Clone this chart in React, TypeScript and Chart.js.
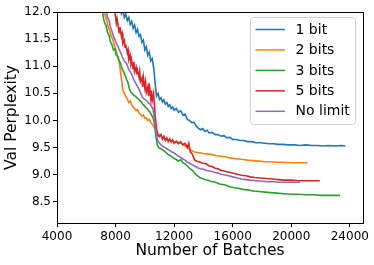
import React, { useEffect, useRef } from "react";
import { Chart, registerables } from "chart.js";

Chart.register(...registerables);

const seriesLabels = ["1 bit", "2 bits", "3 bits", "5 bits", "No limit"];
const seriesColors = ["#1f77b4", "#ff7f0e", "#2ca02c", "#d62728", "#9467bd"];
const xTicks = [4000, 8000, 12000, 16000, 20000, 24000];
const yTicks = [8.5, 9.0, 9.5, 10.0, 10.5, 11.0, 11.5, 12.0];

const bit1Batches = [8300, 8400, 8500, 8600, 8700, 8800, 8900, 9000, 9100, 9200, 9300, 9400, 9500, 9600, 9700, 9800, 9900, 10000, 10100, 10200, 10300, 10400, 10500, 10600, 10700, 10800, 10900, 11000, 11100, 11200, 11300, 11400, 11500, 11600, 11700, 11800, 11900, 12000, 12150, 12300, 12450, 12600, 12750, 12900, 13050, 13200, 13350, 13500, 13650, 13800, 13950, 14100, 14250, 14400, 14600, 14800, 15000, 15200, 15400, 15600, 15800, 16000, 16250, 16500, 16750, 17000, 17300, 17600, 17900, 18200, 18500, 18800, 19100, 19400, 19800, 20200, 20600, 21000, 21400, 21800, 22200, 22600, 23000, 23400, 23700];
const bit1Ppl = [12.1, 11.97, 12.03, 11.9, 11.96, 11.84, 11.9, 11.77, 11.83, 11.7, 11.76, 11.62, 11.68, 11.55, 11.58, 11.44, 11.48, 11.3, 11.36, 11.2, 11.26, 11.1, 11.14, 10.98, 10.7, 10.45, 10.5, 10.39, 10.42, 10.34, 10.38, 10.3, 10.33, 10.26, 10.29, 10.22, 10.25, 10.19, 10.22, 10.15, 10.18, 10.1, 10.12, 10.02, 10.0, 9.96, 9.97, 9.9, 9.86, 9.83, 9.85, 9.8, 9.82, 9.77, 9.78, 9.74, 9.74, 9.71, 9.72, 9.68, 9.69, 9.65, 9.65, 9.63, 9.63, 9.61, 9.61, 9.59, 9.59, 9.58, 9.57, 9.57, 9.56, 9.56, 9.55, 9.55, 9.54, 9.55, 9.54, 9.54, 9.53, 9.54, 9.53, 9.54, 9.53];

const bit2Batches = [7200, 7300, 7400, 7500, 7600, 7700, 7800, 7900, 8000, 8100, 8200, 8300, 8400, 8500, 8600, 8700, 8800, 8900, 9000, 9100, 9200, 9300, 9400, 9500, 9600, 9700, 9800, 9900, 10000, 10100, 10200, 10300, 10400, 10500, 10600, 10700, 10800, 10900, 11000, 11200, 11400, 11600, 11800, 12000, 12200, 12400, 12600, 12800, 13000, 13200, 13400, 13600, 13800, 14000, 14300, 14600, 14900, 15200, 15500, 15800, 16100, 16400, 16700, 17000, 17400, 17800, 18200, 18600, 19000, 19500, 20000, 20500, 21100];
const bit2Ppl = [12.08, 11.92, 11.85, 11.72, 11.66, 11.55, 11.5, 11.4, 11.32, 11.22, 11.12, 10.98, 10.76, 10.56, 10.5, 10.44, 10.4, 10.33, 10.36, 10.29, 10.25, 10.22, 10.18, 10.2, 10.14, 10.12, 10.08, 10.1, 10.04, 10.05, 10.0, 10.02, 9.97, 9.93, 9.9, 9.84, 9.78, 9.72, 9.74, 9.68, 9.66, 9.64, 9.63, 9.61, 9.6, 9.59, 9.56, 9.52, 9.48, 9.44, 9.42, 9.41, 9.4, 9.39, 9.38, 9.37, 9.35, 9.34, 9.33, 9.31, 9.3, 9.29, 9.28, 9.27, 9.26, 9.25, 9.24, 9.24, 9.23, 9.23, 9.22, 9.22, 9.22];

const bit3Batches = [7100, 7150, 7250, 7350, 7450, 7550, 7650, 7750, 7850, 7950, 8050, 8150, 8250, 8350, 8450, 8550, 8650, 8750, 8850, 8950, 9050, 9150, 9250, 9350, 9450, 9550, 9650, 9750, 9850, 9950, 10050, 10150, 10250, 10350, 10450, 10550, 10650, 10750, 10850, 10950, 11100, 11250, 11400, 11550, 11700, 11850, 12000, 12150, 12300, 12450, 12600, 12750, 12900, 13050, 13200, 13350, 13500, 13650, 13800, 13950, 14100, 14300, 14500, 14700, 14900, 15100, 15300, 15500, 15800, 16100, 16400, 16700, 17000, 17400, 17800, 18200, 18600, 19000, 19500, 20000, 20500, 21000, 21500, 22000, 22500, 23000, 23330];
const bit3Ppl = [12.05, 11.92, 11.8, 11.75, 11.62, 11.58, 11.45, 11.4, 11.3, 11.32, 11.2, 11.18, 11.1, 11.05, 10.95, 10.9, 10.83, 10.76, 10.7, 10.58, 10.52, 10.5, 10.46, 10.45, 10.42, 10.4, 10.37, 10.35, 10.3, 10.28, 10.24, 10.22, 10.18, 10.16, 10.1, 10.06, 9.95, 9.72, 9.55, 9.5, 9.48, 9.45, 9.42, 9.38, 9.36, 9.33, 9.3, 9.28, 9.25, 9.28, 9.22, 9.2, 9.16, 9.12, 9.09, 9.05, 9.0, 8.97, 8.94, 8.93, 8.91, 8.9, 8.88, 8.87, 8.85, 8.83, 8.82, 8.81, 8.78, 8.76, 8.75, 8.73, 8.72, 8.7, 8.69, 8.68, 8.67, 8.66, 8.65, 8.64, 8.64, 8.63, 8.63, 8.62, 8.62, 8.62, 8.62];

const bit5Batches = [7900, 8000, 8050, 8100, 8200, 8250, 8300, 8400, 8450, 8500, 8600, 8650, 8700, 8800, 8850, 8900, 9000, 9050, 9100, 9200, 9250, 9300, 9400, 9450, 9500, 9600, 9650, 9700, 9800, 9850, 9900, 10000, 10050, 10100, 10200, 10250, 10300, 10400, 10450, 10500, 10600, 10650, 10700, 10800, 10900, 11000, 11100, 11200, 11300, 11400, 11500, 11600, 11700, 11800, 11900, 12000, 12150, 12300, 12450, 12600, 12750, 12900, 13000, 13100, 13250, 13400, 13550, 13700, 13850, 14000, 14200, 14400, 14600, 14800, 15000, 15200, 15400, 15700, 16000, 16300, 16600, 16900, 17200, 17500, 17900, 18300, 18700, 19100, 19500, 20000, 20500, 21000, 21500, 21950];
const bit5Ppl = [12.1, 11.9, 11.8, 11.88, 11.7, 11.62, 11.72, 11.55, 11.6, 11.42, 11.48, 11.35, 11.4, 11.25, 11.3, 11.12, 11.2, 11.05, 11.1, 10.95, 11.08, 10.9, 10.98, 10.85, 10.92, 10.8, 10.9, 10.72, 10.78, 10.62, 10.8, 10.6, 10.7, 10.52, 10.62, 10.45, 10.68, 10.42, 10.55, 10.36, 10.5, 10.3, 10.1, 9.85, 9.73, 9.7, 9.74, 9.66, 9.71, 9.63, 9.68, 9.61, 9.66, 9.6, 9.64, 9.58, 9.62, 9.57, 9.61, 9.55, 9.58, 9.5, 9.58, 9.42, 9.38, 9.27, 9.25, 9.24, 9.22, 9.21, 9.2, 9.16, 9.15, 9.12, 9.11, 9.08, 9.07, 9.05, 9.03, 9.01, 8.99, 8.98, 8.96, 8.95, 8.94, 8.93, 8.92, 8.91, 8.9, 8.9, 8.89, 8.89, 8.89, 8.89];

const noLimitBatches = [7350, 7450, 7550, 7650, 7750, 7850, 7950, 8050, 8150, 8250, 8350, 8450, 8550, 8650, 8750, 8850, 8950, 9050, 9150, 9250, 9350, 9450, 9550, 9650, 9750, 9850, 9950, 10050, 10150, 10250, 10350, 10450, 10550, 10650, 10750, 10850, 10950, 11100, 11250, 11400, 11550, 11700, 11850, 12000, 12150, 12300, 12450, 12600, 12750, 12900, 13050, 13200, 13400, 13600, 13800, 14000, 14200, 14400, 14600, 14800, 15000, 15200, 15400, 15700, 16000, 16300, 16600, 16900, 17200, 17600, 18000, 18400, 18800, 19200, 19600, 20000, 20300, 20600];
const noLimitPpl = [12.05, 11.9, 11.85, 11.72, 11.65, 11.55, 11.5, 11.42, 11.38, 11.3, 11.25, 11.18, 11.12, 11.08, 11.05, 10.98, 10.92, 10.88, 10.82, 10.75, 10.7, 10.65, 10.6, 10.55, 10.48, 10.42, 10.4, 10.38, 10.36, 10.32, 10.3, 10.26, 10.22, 10.05, 9.82, 9.65, 9.6, 9.55, 9.52, 9.5, 9.47, 9.45, 9.42, 9.4, 9.37, 9.34, 9.32, 9.29, 9.27, 9.23, 9.21, 9.19, 9.16, 9.13, 9.11, 9.1, 9.08, 9.07, 9.06, 9.04, 9.03, 9.01, 9.0, 8.98, 8.96, 8.94, 8.92, 8.91, 8.9, 8.89, 8.88, 8.87, 8.87, 8.86, 8.86, 8.86, 8.86, 8.86];

const seriesBatches = [bit1Batches, bit2Batches, bit3Batches, bit5Batches, noLimitBatches];
const seriesPpl = [bit1Ppl, bit2Ppl, bit3Ppl, bit5Ppl, noLimitPpl];

const FONT = "'DejaVu Sans', sans-serif";

const framePlugin = {
  id: "frame",
  afterDatasetsDraw(chart: any) {
    const { ctx, chartArea } = chart;
    const { left, top, right, bottom } = chartArea;
    ctx.save();
    ctx.strokeStyle = "#000";
    ctx.lineWidth = 1;
    ctx.strokeRect(Math.round(left) + 0.5, Math.round(top) + 0.5, Math.round(right) - Math.round(left), Math.round(bottom) - Math.round(top));
    ctx.restore();
  },
};

const legendPlugin = {
  id: "boxLegend",
  afterDraw(chart: any) {
    const { ctx } = chart;
    const boxX = 250.5;
    const boxY = 17.5;
    const boxW = 105;
    const boxH = 107;
    const r = 3;
    ctx.save();
    ctx.beginPath();
    ctx.moveTo(boxX + r, boxY);
    ctx.lineTo(boxX + boxW - r, boxY);
    ctx.quadraticCurveTo(boxX + boxW, boxY, boxX + boxW, boxY + r);
    ctx.lineTo(boxX + boxW, boxY + boxH - r);
    ctx.quadraticCurveTo(boxX + boxW, boxY + boxH, boxX + boxW - r, boxY + boxH);
    ctx.lineTo(boxX + r, boxY + boxH);
    ctx.quadraticCurveTo(boxX, boxY + boxH, boxX, boxY + boxH - r);
    ctx.lineTo(boxX, boxY + r);
    ctx.quadraticCurveTo(boxX, boxY, boxX + r, boxY);
    ctx.closePath();
    ctx.fillStyle = "rgba(255,255,255,0.8)";
    ctx.fill();
    ctx.strokeStyle = "#d0d0d0";
    ctx.lineWidth = 1;
    ctx.stroke();
    ctx.font = `14px ${FONT}`;
    ctx.textBaseline = "middle";
    ctx.textAlign = "left";
    chart.data.datasets.forEach((ds: any, i: number) => {
      const y = 29.5 + i * 20.45;
      ctx.strokeStyle = ds.borderColor;
      ctx.lineWidth = 1.5;
      ctx.beginPath();
      ctx.moveTo(255.5, y);
      ctx.lineTo(285, y);
      ctx.stroke();
      ctx.fillStyle = "#000";
      ctx.fillText(ds.label, 295.5, y + 0.5);
    });
    ctx.restore();
  },
};

export default function App() {
  const canvasRef = useRef<HTMLCanvasElement | null>(null);

  useEffect(() => {
    if (!canvasRef.current) return;
    const datasets = seriesLabels.map((label, i) => ({
      label,
      data: seriesBatches[i].map((b, j) => ({ x: b, y: seriesPpl[i][j] })),
      borderColor: seriesColors[i],
      backgroundColor: seriesColors[i],
      borderWidth: 1.6,
      pointRadius: 0,
      tension: 0,
      fill: false,
      clip: 0,
      order: seriesLabels.length - i,
    }));
    const chart = new Chart(canvasRef.current, {
      type: "line",
      data: { datasets },
      options: {
        responsive: false,
        animation: false,
        devicePixelRatio: 1,
        layout: { padding: { left: 0, right: 11, top: 12, bottom: 0 } },
        plugins: { legend: { display: false }, tooltip: { enabled: false } },
        scales: {
          x: {
            type: "linear",
            min: 4000,
            max: 24900,
            afterFit: (s: any) => {
              s.height = 42;
            },
            afterBuildTicks: (s: any) => {
              s.ticks = xTicks.map((v) => ({ value: v }));
            },
            ticks: {
              callback: (v: any) => String(v),
              font: { family: FONT, size: 12 },
              color: "#000",
              padding: 2.5,
              maxRotation: 0,
              autoSkip: false,
            },
            grid: { drawOnChartArea: false, drawTicks: true, tickLength: 4, color: "#000", tickWidth: 1 },
            border: { display: false },
            title: {
              display: true,
              text: "Number of Batches",
              font: { family: FONT, size: 15.5 },
              color: "#000",
              padding: { top: 0, bottom: 5 },
            },
          },
          y: {
            type: "linear",
            min: 8.11,
            max: 12.0,
            afterFit: (s: any) => {
              s.width = 57;
            },
            afterBuildTicks: (s: any) => {
              s.ticks = yTicks.map((v) => ({ value: v }));
            },
            ticks: {
              callback: (v: any) => Number(v).toFixed(1),
              font: { family: FONT, size: 12 },
              color: "#000",
              padding: 2,
              autoSkip: false,
            },
            grid: { drawOnChartArea: false, drawTicks: true, tickLength: 4, color: "#000", tickWidth: 1 },
            border: { display: false },
            title: {
              display: true,
              text: "Val Perplexity",
              font: { family: FONT, size: 15.5 },
              color: "#000",
              padding: { top: 3, bottom: 0 },
            },
          },
        },
      },
      plugins: [framePlugin, legendPlugin],
    } as any);
    return () => chart.destroy();
  }, []);

  return (
    <div style={{ position: "fixed", left: 0, top: 0, width: 374, height: 265, background: "#fff" }}>
      <canvas ref={canvasRef} width={374} height={265} style={{ width: 374, height: 265, display: "block" }} />
    </div>
  );
}
